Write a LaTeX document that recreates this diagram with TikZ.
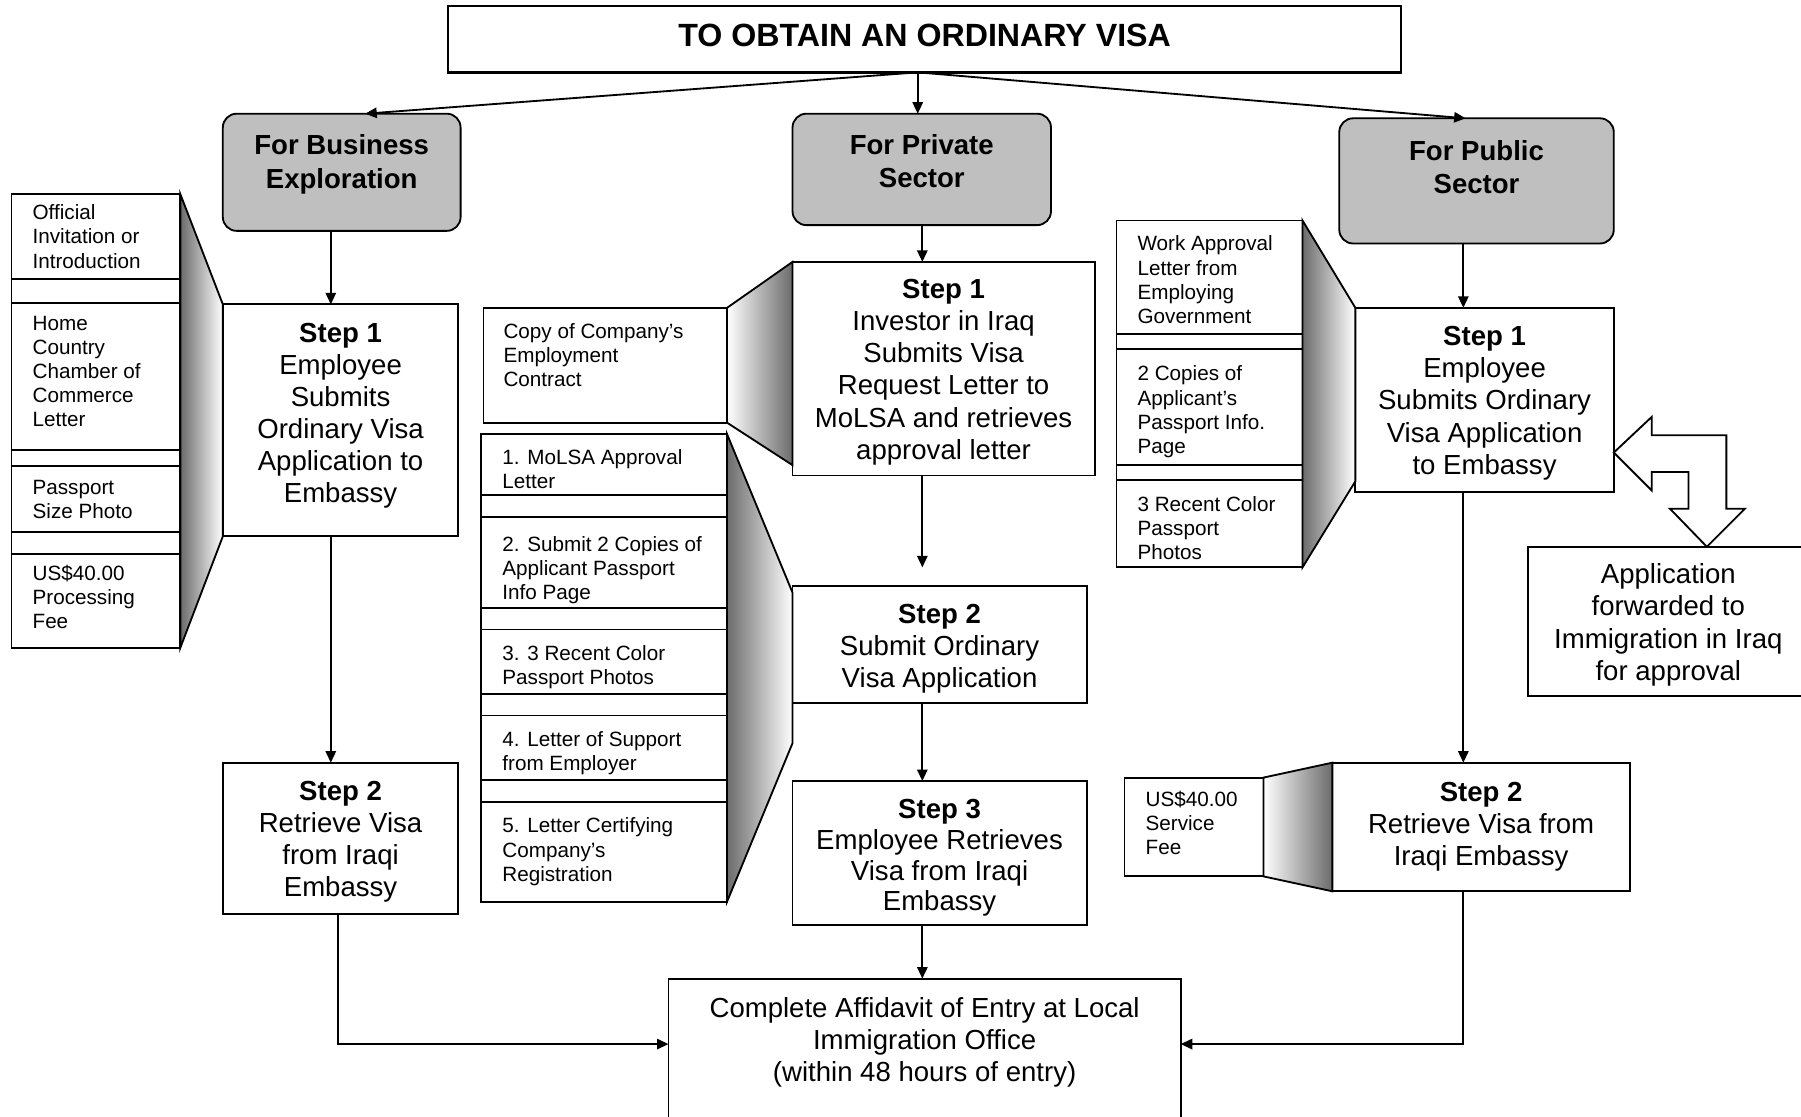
\documentclass[tikz,border=0pt]{standalone}
\usepackage{fontspec}
\setmainfont{Liberation Sans}
\usetikzlibrary{arrows.meta,calc}
\newcommand{\fStep}{\fontsize{12}{14}\selectfont}
\newcommand{\fStepB}{\fontsize{12}{13.4}\selectfont}
\newcommand{\fHdr}{\fontsize{12}{14.5}\selectfont\bfseries}
\newcommand{\fItem}{\fontsize{9}{10.5}\selectfont}
\newcommand{\fTitle}{\fontsize{14}{16}\selectfont\bfseries}
\newcommand{\bx}[7]{\node[#6, minimum width={(#4-#2)*0.5pt}, minimum height={(#5-#3)*0.5pt}] (#1) at ({(#2+#4)/2},{(#3+#5)/2}) {#7};}
% box with centred text given as label, shifted down by #9 units
\newcommand{\tbx}[9]{\node[#6, minimum width={(#4-#2)*0.5pt}, minimum height={(#5-#3)*0.5pt}, label={[#7,yshift={-(#9)*0.5pt}]center:{#8}}] (#1) at ({(#2+#4)/2},{(#3+#5)/2}) {};}
\begin{document}
\begin{tikzpicture}[x=0.5pt,y=-0.5pt,
  box/.style={draw, line width=0.8pt, inner sep=0pt, outer sep=0pt, fill=white},
  hdr/.style={box, fill=black!25, rounded corners=6pt},
  itemlbl/.style={anchor=west, xshift=9pt, align=left, font=\fItem, inner sep=0pt},
  sl/.style={font=\fStep, align=center, inner sep=0pt},
  slb/.style={font=\fStepB, align=center, inner sep=0pt},
  hl/.style={font=\fHdr, align=center, inner sep=0pt},
  tl/.style={font=\fTitle, inner sep=0pt},
  arr/.style={line width=0.8pt, -{Triangle[length=5pt,width=4.5pt]}},
  sideL/.style={draw, line width=0.8pt, left color=black!58, right color=white},
  sideR/.style={draw, line width=0.8pt, left color=white, right color=black!58},
  hollow/.style={draw, line width=0.8pt, fill=white, line join=miter}]
\useasboundingbox (0,0) rectangle (1568,972);

% title
\tbx{title}{390}{5}{1220}{63}{box, line width=1pt}{tl}{TO OBTAIN AN ORDINARY VISA}{-3}

% ---------- business ----------
\tbx{bh}{194}{99}{401}{201}{hdr}{hl}{For Business\\Exploration}{-7}
\tbx{b1}{194}{265}{399}{467}{box}{sl}{\textbf{Step 1}\\Employee\\Submits\\Ordinary Visa\\Application to\\Embassy}{-4}
\tbx{b2}{194}{664}{399}{796}{box}{sl}{\textbf{Step 2}\\Retrieve Visa\\from Iraqi\\Embassy}{3}
\bx{bl}{10}{169}{157}{564}{box}{}
\bx{bl1}{10}{169}{157}{243}{box, label={[itemlbl]west:{Official\\Invitation or\\Introduction}}}{}
\bx{bl2}{10}{264}{157}{392}{box, label={[itemlbl,yshift=2.25pt]west:{Home\\Country\\Chamber of\\Commerce\\Letter}}}{}
\bx{bl3}{10}{406}{157}{463}{box, label={[itemlbl]west:{Passport\\Size Photo}}}{}
\bx{bl4}{10}{482}{157}{564}{box, label={[itemlbl,yshift=1.5pt]west:{US\$40.00\\Processing\\Fee}}}{}

% ---------- private ----------
\tbx{ph}{690}{99}{915}{196}{hdr}{hl}{For Private\\Sector}{-7}
\tbx{p1}{690}{228}{953}{414}{box}{sl}{\textbf{Step 1}\\Investor in Iraq\\Submits Visa\\Request Letter to\\MoLSA and retrieves\\approval letter}{3}
\tbx{p2}{690}{510}{946}{612}{box}{sl}{\textbf{Step 2}\\Submit Ordinary\\Visa Application}{4}
\tbx{p3}{690}{680}{946}{805}{box}{slb}{\textbf{Step 3}\\Employee Retrieves\\Visa from Iraqi\\Embassy}{4.5}
\bx{pt}{421}{268}{633}{368}{box, label={[itemlbl,xshift=-0.5pt,yshift=4.5pt]west:{Copy of Company’s\\Employment\\Contract}}}{}
\bx{pl}{419}{378}{633}{785}{box}{}
\bx{pl1}{419}{378}{633}{431}{box, label={[itemlbl,yshift=-2pt]west:{1. MoLSA Approval\\Letter}}}{}
\bx{pl2}{419}{450}{633}{529}{box, label={[itemlbl,yshift=-3.5pt]west:{2. Submit 2 Copies of\\Applicant Passport\\Info Page}}}{}
\bx{pl3}{419}{548}{633}{604}{box, label={[itemlbl,yshift=-2.25pt]west:{3. 3 Recent Color\\Passport Photos}}}{}
\bx{pl4}{419}{623}{633}{679}{box, label={[itemlbl,yshift=-2.25pt]west:{4. Letter of Support\\from Employer}}}{}
\bx{pl5}{419}{698}{633}{785}{box, label={[itemlbl]west:{5. Letter Certifying\\Company’s\\Registration}}}{}

% ---------- public ----------
\tbx{uh}{1166}{103}{1405}{212}{hdr}{hl}{For Public\\Sector}{-12}
\tbx{u1}{1180}{268}{1405}{428}{box}{sl}{\textbf{Step 1}\\Employee\\Submits Ordinary\\Visa Application\\to Embassy}{3}
\tbx{u2}{1160}{664}{1419}{776}{box}{sl}{\textbf{Step 2}\\Retrieve Visa from\\Iraqi Embassy}{0}
\bx{ul}{972}{192}{1134}{494}{box}{}
\bx{ul1}{972}{192}{1134}{291}{box, label={[itemlbl,yshift=-1pt]west:{Work Approval\\Letter from\\Employing\\Government}}}{}
\bx{ul2}{972}{304}{1134}{405}{box, label={[itemlbl,yshift=-2pt]west:{2 Copies of\\Applicant’s\\Passport Info.\\Page}}}{}
\bx{ul3}{972}{418}{1134}{494}{box, label={[itemlbl,yshift=-1.75pt]west:{3 Recent Color\\Passport\\Photos}}}{}
\bx{sf}{979}{677}{1100}{763}{box, label={[itemlbl,yshift=1.75pt]west:{US\$40.00\\Service\\Fee}}}{}
\tbx{app}{1330}{476}{1575}{606}{box}{sl}{Application\\forwarded to\\Immigration in Iraq\\for approval}{3}

% ---------- bottom ----------
\bx{bot}{582}{852}{1028}{992}{box, label={[sl,anchor=north,yshift=-8pt]north:{Complete Affidavit of Entry at Local\\Immigration Office\\(within 48 hours of entry)}}}{}

% ---------- shaded projections ----------
\path[sideL] (bl.north east) -- (b1.north west) -- (b1.south west) -- (bl.south east) -- cycle;
\path[sideR] (pt.north east) -- (p1.north west) -- ($(p1.south west)+(0,-9)$) -- (pt.south east) -- cycle;
\path[sideL] (pl.north east) -- ($(p2.north west)+(0,6)$) -- ($(p2.south west)+(0,35)$) -- (pl.south east) -- cycle;
\path[sideL] (ul.north east) -- (u1.north west) -- ($(u1.south west)+(0,-9)$) -- (ul.south east) -- cycle;
\path[sideR] (sf.north east) -- (u2.north west) -- (u2.south west) -- (sf.south east) -- cycle;

% ---------- connectors ----------
\coordinate (t0) at (799,63);
\draw[arr] (t0) -- (bh.north -| 318,0);
\draw[arr] (t0) -- (ph.north -| t0);
\draw[arr] (t0) -- (uh.north -| 1276,0);

\draw[arr] (bh.south -| 288,0) -- (b1.north -| 288,0);
\draw[arr] (b1.south -| 288,0) -- (b2.north -| 288,0);
\draw[arr] (b2.south -| 294,0) |- (bot.west |- 0,909);

\draw[arr] (ph.south -| 803,0) -- (p1.north -| 803,0);
\draw[arr, shorten >=8pt] (p1.south -| 803,0) -- (p2.north -| 803,0);
\draw[arr] (p2.south -| 803,0) -- (p3.north -| 803,0);
\draw[arr] (p3.south -| 803,0) -- (bot.north -| 803,0);

\draw[arr] (uh.south -| 1274,0) -- (u1.north -| 1274,0);
\draw[arr] (u1.south -| 1274,0) -- (u2.north -| 1274,0);
\draw[arr] (u2.south -| 1274,0) |- (bot.east |- 0,909);

% hollow bent arrow
\draw[hollow] (u1.east |- 0,394) -- (1438,363) -- (1438,379) -- (1503,379) -- (1503,443) -- (1519,443) -- (app.north -| 1486,0) -- (1454,443) -- (1470,443) -- (1470,411) -- (1438,411) -- (1438,427) -- cycle;
\end{tikzpicture}
\end{document}
